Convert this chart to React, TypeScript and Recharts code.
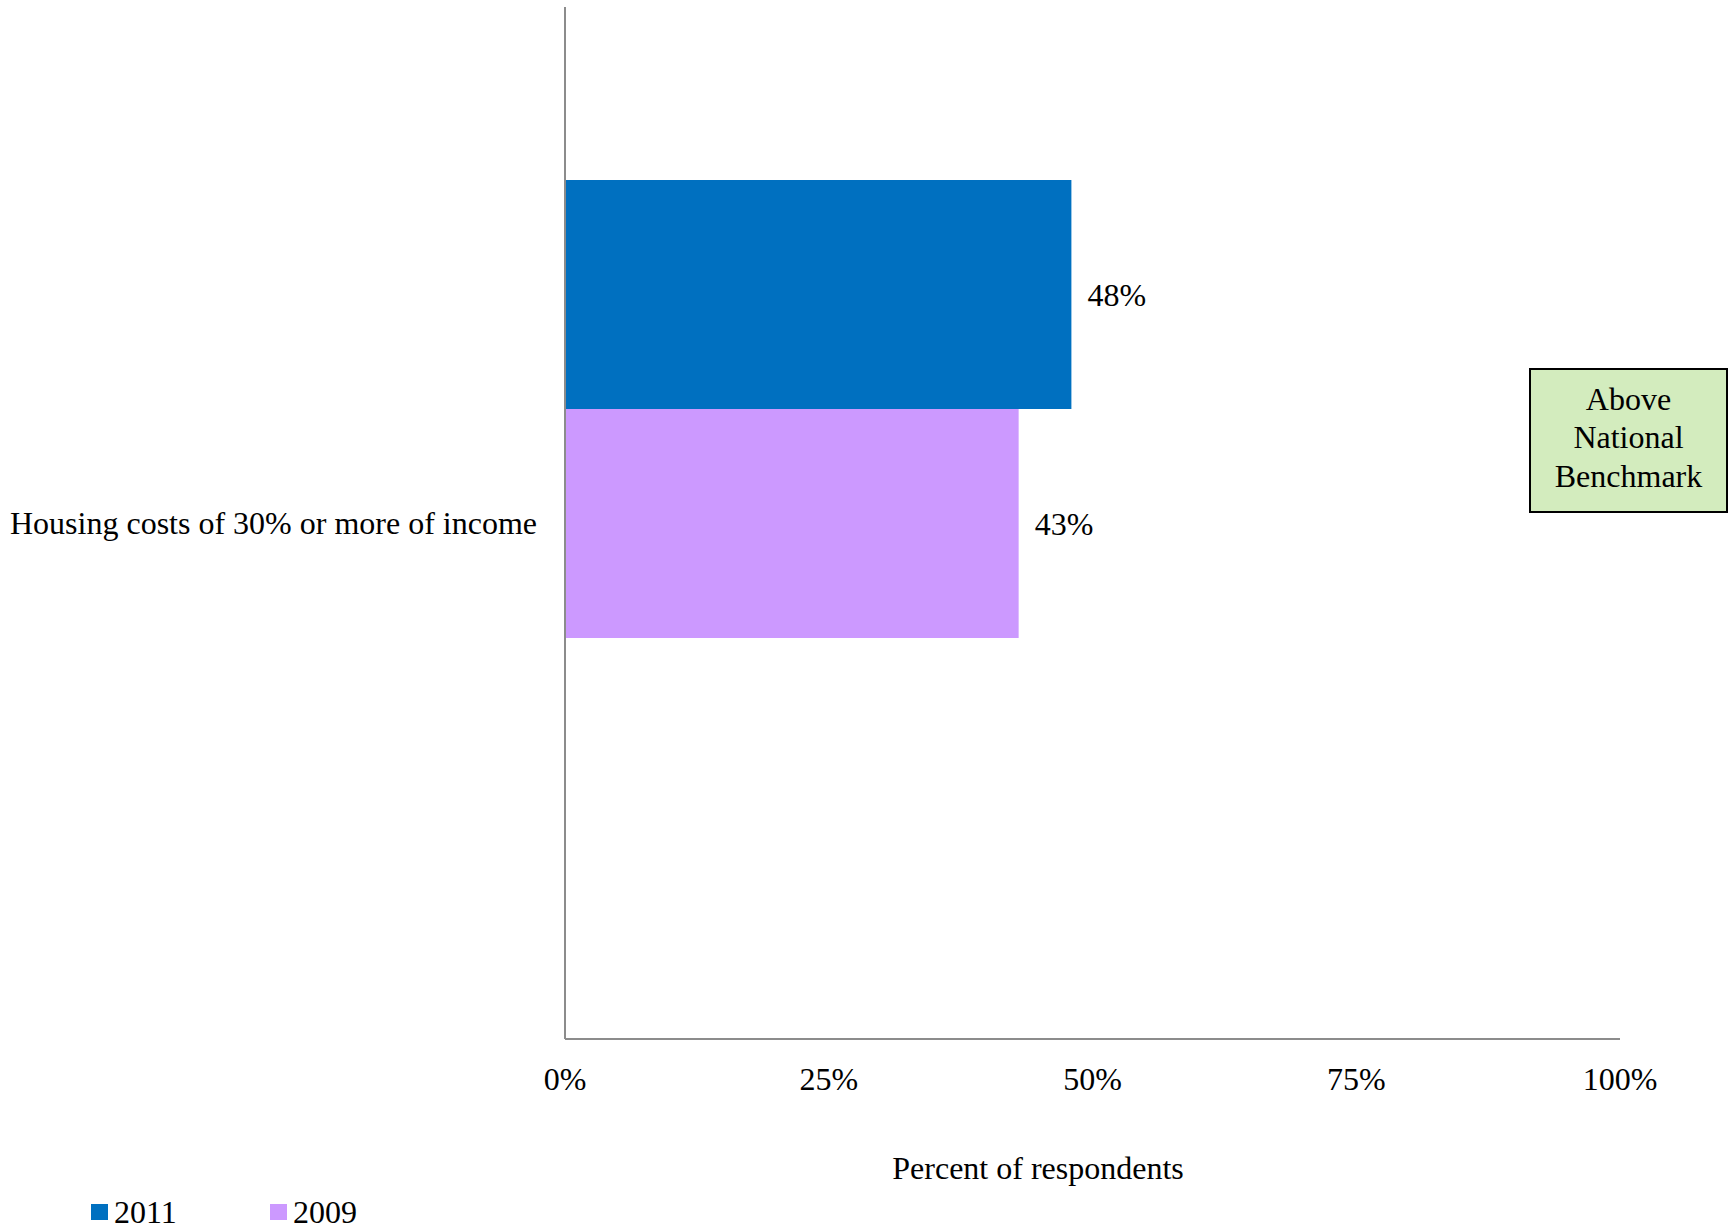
import React from 'react';
import { BarChart, Bar, XAxis, YAxis, LabelList } from 'recharts';

const categories = ['Housing costs of 30% or more of income'];
const series2011 = [48];
const series2009 = [43];
const seriesBenchmark: (number | null)[] = [null];
const xTicks = [0, 25, 50, 75, 100];

const legendItems = [
  { name: '2011', color: '#0070C0' },
  { name: '2009', color: '#CC99FF' },
];

const data = categories.map((c, i) => ({
  category: c,
  y2011: series2011[i],
  y2009: series2009[i],
  benchmark: seriesBenchmark[i],
}));

const FONT = '"Liberation Serif", "Times New Roman", serif';

export default function App() {
  return (
    <div style={{ position: 'absolute', left: 0, top: 0, width: 1729, height: 1232, overflow: 'hidden', background: '#fff' }}>
      <BarChart
        width={1729}
        height={1232}
        data={data}
        layout="vertical"
        margin={{ top: 7, right: 109, bottom: 133, left: 0 }}
        barSize={229}
        barGap={0}
      >
        <XAxis
          type="number"
          domain={[0, 100]}
          ticks={xTicks}
          tickFormatter={(v: number) => `${v}%`}
          axisLine={{ stroke: '#8c8c8c', strokeWidth: 2 }}
          tickLine={false}
          tickSize={0}
          tickMargin={28}
          height={60}
          interval={0}
          tick={{ fill: '#000', fontSize: 32, fontFamily: FONT }}
        />
        <YAxis
          type="category"
          dataKey="category"
          width={565}
          axisLine={{ stroke: '#8c8c8c', strokeWidth: 2 }}
          tickLine={false}
          tickSize={0}
          tickMargin={28}
          tick={{ fill: '#000', fontSize: 32, fontFamily: FONT }}
        />
        <Bar dataKey="y2011" name="2011" fill="#0070C0" isAnimationActive={false}>
          <LabelList
            dataKey="y2011"
            position="right"
            offset={16}
            formatter={(v: any) => `${v}%`}
            style={{ fill: '#000', fontSize: 32, fontFamily: FONT }}
          />
        </Bar>
        <Bar dataKey="y2009" name="2009" fill="#CC99FF" isAnimationActive={false}>
          <LabelList
            dataKey="y2009"
            position="right"
            offset={16}
            formatter={(v: any) => `${v}%`}
            style={{ fill: '#000', fontSize: 32, fontFamily: FONT }}
          />
        </Bar>
        <Bar dataKey="benchmark" name="Above National Benchmark" fill="#D3ECBE" isAnimationActive={false} />
      </BarChart>
      <div
        style={{
          position: 'absolute',
          left: 838,
          top: 1150,
          width: 400,
          textAlign: 'center',
          fontFamily: FONT,
          fontSize: 32,
          lineHeight: '36px',
          color: '#000',
        }}
      >
        Percent of respondents
      </div>
      <div
        style={{
          position: 'absolute',
          left: 91,
          top: 1194,
          display: 'flex',
          fontFamily: FONT,
          fontSize: 32,
          lineHeight: '36px',
          color: '#000',
        }}
      >
        {legendItems.map((it) => (
          <div key={it.name} style={{ display: 'flex', alignItems: 'center', width: 179 }}>
            <span style={{ display: 'inline-block', width: 17, height: 16, background: it.color, marginRight: 6 }} />
            <span>{it.name}</span>
          </div>
        ))}
      </div>
      <div
        style={{
          position: 'absolute',
          left: 1529,
          top: 368,
          width: 195,
          height: 141,
          border: '2px solid #000',
          background: '#D3ECBE',
          display: 'flex',
          flexDirection: 'column',
          justifyContent: 'center',
          alignItems: 'center',
          boxSizing: 'content-box',
          paddingBottom: 0,
          fontFamily: FONT,
          fontSize: 32,
          lineHeight: '38.5px',
          color: '#000',
          textAlign: 'center',
        }}
      >
        <div style={{ position: 'relative', top: -3 }}>Above</div>
        <div style={{ position: 'relative', top: -3 }}>National</div>
        <div style={{ position: 'relative', top: -3 }}>Benchmark</div>
      </div>
    </div>
  );
}
